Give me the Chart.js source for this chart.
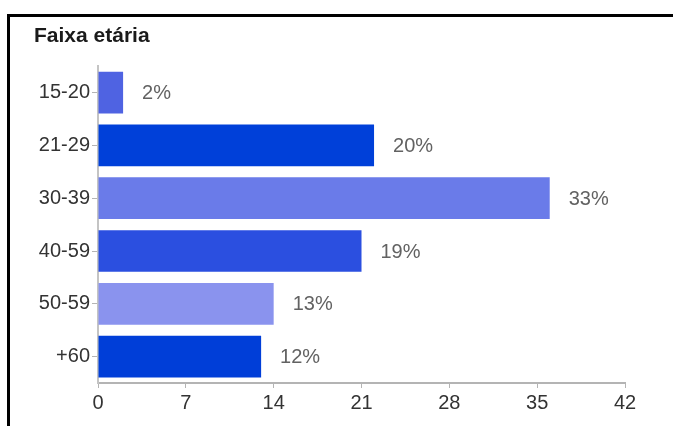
<!DOCTYPE html>
<html>
<head>
<meta charset="utf-8">
<title>Faixa etária</title>
<script src="https://cdn.jsdelivr.net/npm/chart.js@4/dist/chart.umd.min.js"></script>
<style>
  html, body { margin: 0; padding: 0; background: #fff; }
  #wrap { position: relative; width: 673px; height: 426px; }
  #frame {
    position: absolute; left: 7px; top: 14px; right: 0; bottom: 0;
    border-top: 3px solid #000; border-left: 3px solid #000;
    pointer-events: none;
  }
</style>
</head>
<body>
<div id="wrap">
  <canvas id="ageChart" width="673" height="426"></canvas>
  <div id="frame"></div>
</div>
<script>
// answers per age group
let ageGroups = ['15-20', '21-29', '30-39', '40-59', '50-59', '+60'];
let answers = [2, 22, 36, 21, 14, 13];
let barColours = ['#4f63e2', '#0040d9', '#6a7be9', '#2b4fe0', '#8a93ee', '#003ed8'];
let axisTicks = [0, 7, 14, 21, 28, 35, 42];

let totalAnswers = answers.reduce((sum, v) => sum + v, 0);
let tickFont = { family: "'Liberation Sans', Arial, sans-serif", size: 20 };

/**
 * Writes the share of each bar (in %) just right of the bar end.
 */
const percentLabels = {
  id: 'percentLabels',
  afterDatasetsDraw(chart) {
    let ctx = chart.ctx;
    let meta = chart.getDatasetMeta(0);
    ctx.save();
    ctx.font = "20px 'Liberation Sans', Arial, sans-serif";
    ctx.fillStyle = '#626262';
    ctx.textAlign = 'left';
    ctx.textBaseline = 'middle';
    meta.data.forEach((bar, i) => {
      let share = Math.round(answers[i] * 100 / totalAnswers);
      ctx.fillText(share + '%', bar.x + 19, bar.y + 1);
    });
    ctx.restore();
  }
};

new Chart(document.getElementById('ageChart'), {
  type: 'bar',
  data: {
    labels: ageGroups,
    datasets: [{
      data: answers,
      backgroundColor: barColours,
      borderWidth: 0,
      barPercentage: 0.79,
      categoryPercentage: 1
    }]
  },
  options: {
    indexAxis: 'y',
    responsive: false,
    animation: false,
    layout: { padding: { left: 34, right: 48, top: 0, bottom: 0 } },
    plugins: {
      legend: { display: false },
      tooltip: { enabled: false },
      title: {
        display: true,
        text: 'Faixa etária',
        align: 'start',
        color: '#1a1a1a',
        font: { family: "'Liberation Sans', Arial, sans-serif", size: 21, weight: 'bold' },
        padding: { top: 24, bottom: 17 }
      }
    },
    scales: {
      x: {
        min: axisTicks[0],
        max: axisTicks[axisTicks.length - 1],
        afterBuildTicks: scale => { scale.ticks = axisTicks.map(v => ({ value: v })); },
        grid: { drawOnChartArea: false, tickLength: 5, tickColor: '#b4b4b4' },
        border: { color: '#b4b4b4', width: 2 },
        ticks: { color: '#333', font: tickFont, padding: 3, maxRotation: 0 },
        afterFit: scale => { scale.height = 43; }
      },
      y: {
        grid: { offset: false, drawOnChartArea: false, tickLength: 6, tickColor: '#b4b4b4' },
        border: { color: '#c4c4c4', width: 2 },
        ticks: { color: '#333', font: tickFont, padding: 2 },
        afterFit: scale => { scale.width = 64; }
      }
    }
  },
  plugins: [percentLabels]
});
</script>
</body>
</html>
